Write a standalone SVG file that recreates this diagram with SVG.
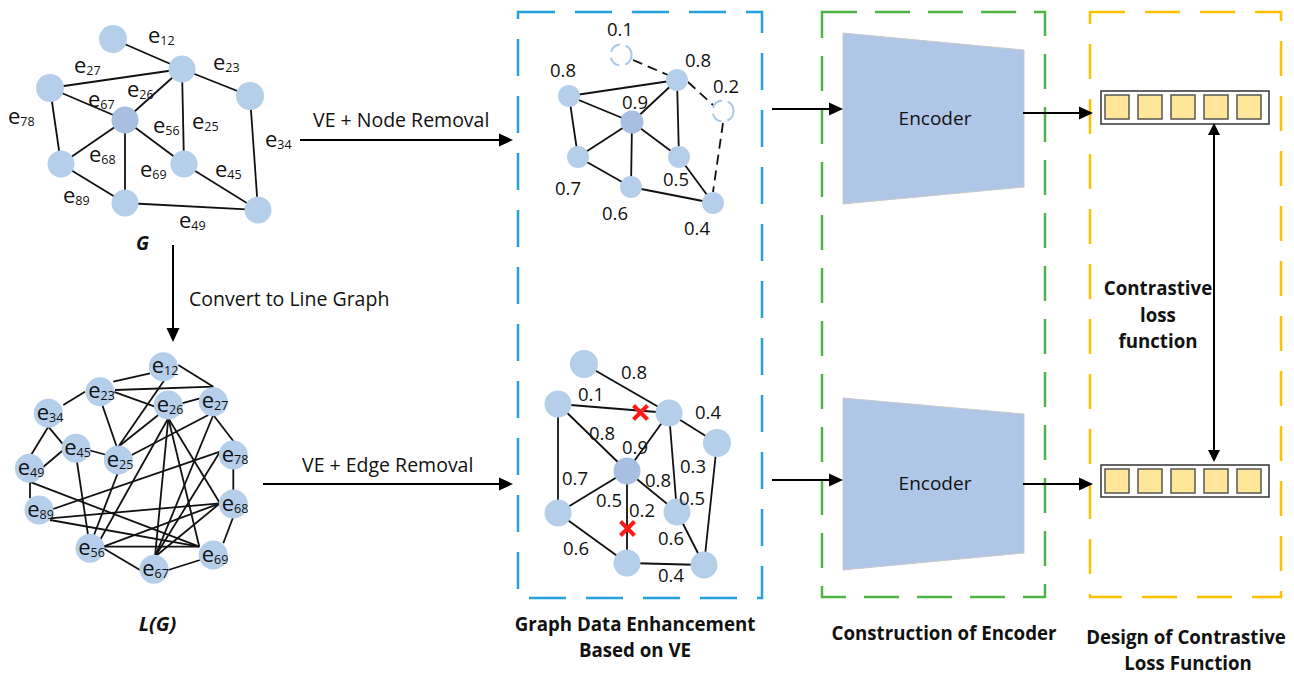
<svg xmlns="http://www.w3.org/2000/svg" width="1294" height="673" viewBox="0 0 1294 673">
<defs>
<style>
text{font-family:"Open Sans","Noto Sans","Liberation Sans",sans-serif;fill:#111;}
.lbl{font-size:19.5px;}
.num{font-size:18.5px;}
.el{font-size:22px;}
.sub{font-size:12.5px;}
.b{font-weight:bold;font-size:18.7px;}
.bi{font-weight:bold;font-style:italic;font-size:19px;}
.nd{fill:#b5cfea;}
.nd2{fill:#a8bfe2;}
.ed{stroke:#111;stroke-width:1.8;fill:none;}
.dsh{stroke:#111;stroke-width:1.8;stroke-dasharray:10 6;fill:none;}
.dc{fill:#fff;stroke:#a9c8e8;stroke-width:2;stroke-dasharray:12 6;}
.arr{stroke:#000;stroke-width:2;fill:none;marker-end:url(#ah);}
.vec{fill:#fff;stroke:#333;stroke-width:1.5;}
.cell{fill:#ffe699;stroke:#555;stroke-width:1.5;}
.enc{fill:#afc6e7;stroke:#c9c9c9;stroke-width:1;}
.x{stroke:#ff1a1a;stroke-width:4;}
</style>
<marker id="ah" viewBox="0 0 14 14" refX="10" refY="7" markerWidth="14" markerHeight="14" markerUnits="userSpaceOnUse" orient="auto-start-reverse"><path d="M0,0.5 L14,7 L0,13.5 z" fill="#000"/></marker>
<marker id="ah2" viewBox="0 0 12 12" refX="9" refY="6" markerWidth="12" markerHeight="12" markerUnits="userSpaceOnUse" orient="auto-start-reverse"><path d="M0,0 L12,6 L0,12 z" fill="#000"/></marker>
</defs>
<rect width="1294" height="673" fill="#fff"/>

<!-- Frames -->
<g id="frames" fill="none" stroke-width="2.5">
<rect x="518" y="12" width="244" height="586" stroke="#27a1dc" stroke-dasharray="37 20"/>
<rect x="822" y="12" width="223" height="585" stroke="#4fb446" stroke-dasharray="35 18"/>
<rect x="1090" y="12" width="191" height="585" stroke="#ffc000" stroke-dasharray="35 20"/>
</g>

<!-- Graph G -->
<g id="graphG">
<g class="ed">
<line x1="113" y1="39" x2="182" y2="69"/>
<line x1="182" y1="69" x2="50" y2="88"/>
<line x1="182" y1="69" x2="250" y2="96"/>
<line x1="182" y1="69" x2="125" y2="120"/>
<line x1="182" y1="69" x2="184" y2="164"/>
<line x1="50" y1="88" x2="125" y2="120"/>
<line x1="50" y1="88" x2="61" y2="164"/>
<line x1="125" y1="120" x2="61" y2="164"/>
<line x1="125" y1="120" x2="125" y2="203"/>
<line x1="125" y1="120" x2="184" y2="164"/>
<line x1="61" y1="164" x2="125" y2="203"/>
<line x1="125" y1="203" x2="258" y2="210"/>
<line x1="184" y1="164" x2="258" y2="210"/>
<line x1="250" y1="96" x2="258" y2="210"/>
</g>
<g id="g-n1"><circle class="nd" cx="113" cy="39" r="14"/></g>
<g id="g-n2"><circle class="nd" cx="182" cy="69" r="13.5"/></g>
<g id="g-n3"><circle class="nd" cx="250" cy="96" r="14"/></g>
<g id="g-n4"><circle class="nd" cx="258" cy="210" r="13.5"/></g>
<g id="g-n5"><circle class="nd" cx="184" cy="164" r="13.5"/></g>
<g id="g-n6"><circle class="nd2" cx="125" cy="120" r="13.5"/></g>
<g id="g-n7"><circle class="nd" cx="50" cy="88" r="14"/></g>
<g id="g-n8"><circle class="nd" cx="61" cy="164" r="13.5"/></g>
<g id="g-n9"><circle class="nd" cx="125" cy="203" r="13.5"/></g>
<g id="g-labels" class="el">
<text x="148" y="43">e<tspan class="sub" dy="2">12</tspan></text>
<text x="74" y="73">e<tspan class="sub" dy="2">27</tspan></text>
<text x="213" y="70">e<tspan class="sub" dy="2">23</tspan></text>
<text x="127" y="97">e<tspan class="sub" dy="2">26</tspan></text>
<text x="88" y="107">e<tspan class="sub" dy="2">67</tspan></text>
<text x="8" y="124">e<tspan class="sub" dy="2">78</tspan></text>
<text x="153" y="133">e<tspan class="sub" dy="2">56</tspan></text>
<text x="192" y="129">e<tspan class="sub" dy="2">25</tspan></text>
<text x="265" y="147">e<tspan class="sub" dy="2">34</tspan></text>
<text x="89" y="162">e<tspan class="sub" dy="2">68</tspan></text>
<text x="140" y="177">e<tspan class="sub" dy="2">69</tspan></text>
<text x="215" y="177">e<tspan class="sub" dy="2">45</tspan></text>
<text x="63" y="203">e<tspan class="sub" dy="2">89</tspan></text>
<text x="179" y="228">e<tspan class="sub" dy="2">49</tspan></text>
</g>
<text class="bi" x="136" y="250">G</text>
</g>

<!-- Line graph L(G) -->
<g id="lineGraph">
<g class="ed">
<line x1="113.3" y1="381.7" x2="150" y2="373.3"/>
<line x1="178.3" y1="365" x2="213.3" y2="386.7"/>
<line x1="115" y1="390" x2="213.3" y2="386.7"/>
<line x1="166.7" y1="376.7" x2="118.3" y2="446.7"/>
<line x1="113.3" y1="391.7" x2="155" y2="406.7"/>
<line x1="101.7" y1="403.3" x2="116.7" y2="446.7"/>
<line x1="85" y1="391.7" x2="63.3" y2="405"/>
<line x1="181.7" y1="403.3" x2="200" y2="398.3"/>
<line x1="158.3" y1="415" x2="118.3" y2="446.7"/>
<line x1="208.3" y1="415" x2="131.7" y2="455"/>
<line x1="88.3" y1="450" x2="106.7" y2="455"/>
<line x1="118.3" y1="471.7" x2="93.3" y2="536.7"/>
<line x1="48.3" y1="426.7" x2="30" y2="456.7"/>
<line x1="48.3" y1="426.7" x2="65" y2="446.7"/>
<line x1="63.3" y1="450" x2="41.7" y2="468.3"/>
<line x1="76.7" y1="460" x2="88.3" y2="536.7"/>
<line x1="30" y1="480" x2="30" y2="498.3"/>
<line x1="29.3" y1="481.7" x2="199.3" y2="546.7"/>
<line x1="50" y1="510" x2="220" y2="451.7"/>
<line x1="50" y1="518.3" x2="220" y2="503.3"/>
<line x1="50" y1="520" x2="199.3" y2="546.7"/>
<line x1="168.3" y1="418.3" x2="100" y2="540"/>
<line x1="168.3" y1="418.3" x2="155" y2="556.7"/>
<line x1="168.3" y1="418.3" x2="199.3" y2="546.7"/>
<line x1="168.3" y1="418.3" x2="220" y2="503.3"/>
<line x1="213.3" y1="415" x2="155" y2="556.7"/>
<line x1="213.3" y1="415" x2="235" y2="443.3"/>
<line x1="220" y1="451.7" x2="155" y2="556.7"/>
<line x1="233.3" y1="466.7" x2="233.3" y2="491.7"/>
<line x1="220" y1="503.3" x2="103.3" y2="546.7"/>
<line x1="220" y1="503.3" x2="155" y2="556.7"/>
<line x1="233.3" y1="516.7" x2="223.3" y2="543.3"/>
<line x1="103.3" y1="546.7" x2="199.3" y2="546.7"/>
<line x1="103.3" y1="548.3" x2="140" y2="570"/>
<line x1="168.3" y1="570" x2="200" y2="560"/>
</g>
<g id="lg-e12"><circle class="nd" cx="163.3" cy="366.7" r="14.5"/><text class="el" x="165" y="373" text-anchor="middle">e<tspan class="sub" dy="2">12</tspan></text></g>
<g id="lg-e23"><circle class="nd" cx="100" cy="391.7" r="14.5"/><text class="el" x="101.5" y="398" text-anchor="middle">e<tspan class="sub" dy="2">23</tspan></text></g>
<g id="lg-e26"><circle class="nd" cx="168.3" cy="405" r="14.5"/><text class="el" x="170" y="411.5" text-anchor="middle">e<tspan class="sub" dy="2">26</tspan></text></g>
<g id="lg-e27"><circle class="nd" cx="213.3" cy="401.7" r="14.5"/><text class="el" x="215" y="408" text-anchor="middle">e<tspan class="sub" dy="2">27</tspan></text></g>
<g id="lg-e34"><circle class="nd" cx="48.3" cy="413.3" r="14.5"/><text class="el" x="50" y="419.5" text-anchor="middle">e<tspan class="sub" dy="2">34</tspan></text></g>
<g id="lg-e45"><circle class="nd" cx="76" cy="448.3" r="14.5"/><text class="el" x="77.5" y="454.5" text-anchor="middle">e<tspan class="sub" dy="2">45</tspan></text></g>
<g id="lg-e25"><circle class="nd" cx="118.3" cy="460" r="14.5"/><text class="el" x="120" y="466.5" text-anchor="middle">e<tspan class="sub" dy="2">25</tspan></text></g>
<g id="lg-e78"><circle class="nd" cx="233.3" cy="455" r="14.5"/><text class="el" x="235" y="461.5" text-anchor="middle">e<tspan class="sub" dy="2">78</tspan></text></g>
<g id="lg-e49"><circle class="nd" cx="29.3" cy="468.3" r="14.5"/><text class="el" x="31" y="474.5" text-anchor="middle">e<tspan class="sub" dy="2">49</tspan></text></g>
<g id="lg-e68"><circle class="nd" cx="233.3" cy="504" r="14.5"/><text class="el" x="235" y="510.5" text-anchor="middle">e<tspan class="sub" dy="2">68</tspan></text></g>
<g id="lg-e89"><circle class="nd" cx="39" cy="510" r="14.5"/><text class="el" x="40.5" y="516.5" text-anchor="middle">e<tspan class="sub" dy="2">89</tspan></text></g>
<g id="lg-e56"><circle class="nd" cx="90" cy="548.3" r="14.5"/><text class="el" x="91.5" y="555" text-anchor="middle">e<tspan class="sub" dy="2">56</tspan></text></g>
<g id="lg-e69"><circle class="nd" cx="213.3" cy="555" r="14.5"/><text class="el" x="215" y="561.5" text-anchor="middle">e<tspan class="sub" dy="2">69</tspan></text></g>
<g id="lg-e67"><circle class="nd" cx="154" cy="569.3" r="14.5"/><text class="el" x="155.5" y="576" text-anchor="middle">e<tspan class="sub" dy="2">67</tspan></text></g>
<text class="bi" x="157.5" y="631" text-anchor="middle" style="font-size:20px">L(G)</text>
</g>

<!-- Node removal graph -->
<g id="nodeRemovalGraph">
<g class="ed">
<line x1="569" y1="96" x2="677" y2="80"/>
<line x1="569" y1="96" x2="632" y2="122"/>
<line x1="569" y1="96" x2="578" y2="157"/>
<line x1="677" y1="80" x2="632" y2="122"/>
<line x1="677" y1="80" x2="679" y2="157"/>
<line x1="632" y1="122" x2="578" y2="157"/>
<line x1="632" y1="122" x2="631" y2="187"/>
<line x1="632" y1="122" x2="679" y2="157"/>
<line x1="578" y1="157" x2="631" y2="187"/>
<line x1="631" y1="187" x2="713" y2="203"/>
<line x1="679" y1="157" x2="713" y2="203"/>
</g>
<g class="dsh">
<line x1="633" y1="60" x2="668" y2="75"/>
<line x1="688" y1="82" x2="713" y2="105"/>
<line x1="723" y1="123" x2="713" y2="192"/>
</g>
<g id="vr-d1"><circle class="dc" cx="621" cy="55" r="10.5"/></g>
<g id="vr-d2"><circle class="dc" cx="723" cy="111" r="10.5"/></g>
<g id="vr-a"><circle class="nd" cx="569" cy="96" r="11"/></g>
<g id="vr-b"><circle class="nd" cx="677" cy="80" r="11"/></g>
<g id="vr-c"><circle class="nd2" cx="632" cy="122" r="11.5"/></g>
<g id="vr-d"><circle class="nd" cx="578" cy="157" r="11"/></g>
<g id="vr-e"><circle class="nd" cx="679" cy="157" r="11"/></g>
<g id="vr-f"><circle class="nd" cx="631" cy="187" r="11"/></g>
<g id="vr-g"><circle class="nd" cx="713" cy="203" r="11"/></g>
<g class="num">
<text x="607" y="36">0.1</text>
<text x="685" y="67">0.8</text>
<text x="550" y="77">0.8</text>
<text x="713" y="93">0.2</text>
<text x="622" y="109">0.9</text>
<text x="555" y="195">0.7</text>
<text x="663" y="186">0.5</text>
<text x="602" y="220">0.6</text>
<text x="684" y="235">0.4</text>
</g>
</g>

<!-- Edge removal graph -->
<g id="edgeRemovalGraph">
<g class="ed">
<line x1="584" y1="364" x2="669" y2="413"/>
<line x1="558" y1="404" x2="669" y2="413"/>
<line x1="558" y1="404" x2="627" y2="471"/>
<line x1="558" y1="404" x2="558" y2="513"/>
<line x1="669" y1="413" x2="627" y2="471"/>
<line x1="669" y1="413" x2="677" y2="512"/>
<line x1="669" y1="413" x2="717" y2="443"/>
<line x1="717" y1="443" x2="704" y2="565"/>
<line x1="627" y1="471" x2="558" y2="513"/>
<line x1="627" y1="471" x2="677" y2="512"/>
<line x1="627" y1="471" x2="627" y2="563"/>
<line x1="558" y1="513" x2="627" y2="563"/>
<line x1="627" y1="563" x2="704" y2="565"/>
<line x1="677" y1="512" x2="704" y2="565"/>
</g>
<g id="er-p"><circle class="nd" cx="584" cy="364" r="14"/></g>
<g id="er-q"><circle class="nd" cx="558" cy="404" r="13.5"/></g>
<g id="er-r"><circle class="nd" cx="669" cy="413" r="13.5"/></g>
<g id="er-s"><circle class="nd" cx="717" cy="443" r="14"/></g>
<g id="er-t"><circle class="nd2" cx="627" cy="471" r="13.5"/></g>
<g id="er-u"><circle class="nd" cx="558" cy="513" r="13.5"/></g>
<g id="er-v"><circle class="nd" cx="677" cy="512" r="13.5"/></g>
<g id="er-w"><circle class="nd" cx="627" cy="563" r="13.5"/></g>
<g id="er-x"><circle class="nd" cx="704" cy="565" r="13.5"/></g>
<g class="x">
<line x1="633.5" y1="405.5" x2="647.5" y2="419.5"/><line x1="647.5" y1="405.5" x2="633.5" y2="419.5"/>
<line x1="620.5" y1="521.5" x2="634.5" y2="535.5"/><line x1="634.5" y1="521.5" x2="620.5" y2="535.5"/>
</g>
<g class="num">
<text x="621" y="379">0.8</text>
<text x="578" y="401">0.1</text>
<text x="695" y="419">0.4</text>
<text x="589" y="440">0.8</text>
<text x="622" y="454">0.9</text>
<text x="680" y="473">0.3</text>
<text x="562" y="485">0.7</text>
<text x="645" y="487">0.8</text>
<text x="596" y="507">0.5</text>
<text x="679" y="505">0.5</text>
<text x="629" y="517">0.2</text>
<text x="563" y="555">0.6</text>
<text x="658" y="545">0.6</text>
<text x="658" y="582">0.4</text>
</g>
</g>

<!-- Encoders -->
<g id="encoder1"><polygon class="enc" points="843,33 1024,50 1024,187 843,204"/><text class="lbl" x="935" y="125" text-anchor="middle" style="font-size:19px">Encoder</text></g>
<g id="encoder2"><polygon class="enc" points="843,398 1024,414 1024,553 843,570"/><text class="lbl" x="935" y="490" text-anchor="middle" style="font-size:19px">Encoder</text></g>

<!-- Vectors -->
<g id="vector1">
<rect class="vec" x="1101" y="91" width="168" height="33"/>
<rect class="cell" x="1105" y="95" width="24" height="24"/>
<rect class="cell" x="1138" y="95" width="24" height="24"/>
<rect class="cell" x="1171" y="95" width="24" height="24"/>
<rect class="cell" x="1204" y="95" width="24" height="24"/>
<rect class="cell" x="1237" y="95" width="24" height="24"/>
</g>
<g id="vector2">
<rect class="vec" x="1101" y="465" width="168" height="32"/>
<rect class="cell" x="1105" y="469" width="24" height="24"/>
<rect class="cell" x="1138" y="469" width="24" height="24"/>
<rect class="cell" x="1171" y="469" width="24" height="24"/>
<rect class="cell" x="1204" y="469" width="24" height="24"/>
<rect class="cell" x="1237" y="469" width="24" height="24"/>
</g>

<!-- Connectors -->
<g id="connectors">
<line class="arr" x1="300" y1="140" x2="509" y2="140"/>
<line class="arr" x1="263" y1="484" x2="509" y2="484"/>
<line class="arr" x1="173" y1="245" x2="173" y2="338"/>
<line class="arr" x1="772" y1="109" x2="839" y2="109"/>
<line class="arr" x1="772" y1="480" x2="839" y2="480"/>
<line class="arr" x1="1023" y1="113" x2="1089" y2="113"/>
<line class="arr" x1="1023" y1="484" x2="1089" y2="484"/>
<line x1="1214" y1="126" x2="1214" y2="459" stroke="#000" stroke-width="2" marker-start="url(#ah2)" marker-end="url(#ah2)"/>
</g>

<!-- Texts -->
<g id="texts">
<text class="lbl" x="313" y="127">VE + Node Removal</text>
<text class="lbl" x="189" y="306">Convert to Line Graph</text>
<text class="lbl" x="302" y="472">VE + Edge Removal</text>
<text class="b" x="1158" y="295" text-anchor="middle">Contrastive</text>
<text class="b" x="1158" y="322" text-anchor="middle">loss</text>
<text class="b" x="1158" y="348" text-anchor="middle">function</text>
<text class="b" x="635" y="631" text-anchor="middle">Graph Data Enhancement</text>
<text class="b" x="635" y="657" text-anchor="middle">Based on VE</text>
<text class="b" x="944" y="640" text-anchor="middle">Construction of Encoder</text>
<text class="b" x="1186" y="644" text-anchor="middle">Design of Contrastive</text>
<text class="b" x="1188" y="670" text-anchor="middle">Loss Function</text>
</g>
</svg>
